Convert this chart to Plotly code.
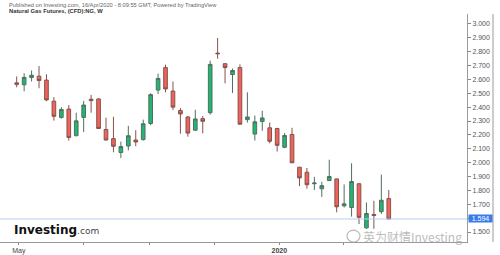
import plotly.graph_objects as go
import pandas as pd

# Weekly candles, Natural Gas Futures (NG), weeks starting 2019-04-29 .. 2020-04-13
dates = pd.date_range("2019-04-29", periods=51, freq="7D")

opens = [2.575, 2.561, 2.614, 2.623, 2.595, 2.443, 2.326, 2.386, 2.194, 2.326,
         2.457, 2.459, 2.239, 2.173, 2.073, 2.120, 2.163, 2.166, 2.282, 2.523,
         2.685, 2.516, 2.376, 2.329, 2.234, 2.317, 2.360, 2.789, 2.713, 2.635,
         2.685, 2.310, 2.206, 2.296, 2.251, 2.246, 2.111, 2.203, 1.967, 1.931,
         1.848, 1.812, 1.871, 1.883, 1.689, 1.677, 1.848, 1.530, 1.627, 1.647,
         1.741]
highs = [2.621, 2.644, 2.664, 2.696, 2.637, 2.472, 2.400, 2.415, 2.360, 2.445,
         2.488, 2.464, 2.324, 2.331, 2.152, 2.265, 2.234, 2.310, 2.500, 2.642,
         2.706, 2.585, 2.393, 2.336, 2.381, 2.336, 2.735, 2.898, 2.715, 2.678,
         2.708, 2.507, 2.339, 2.374, 2.289, 2.251, 2.213, 2.251, 1.970, 1.962,
         1.898, 1.862, 2.021, 1.885, 1.843, 1.995, 1.850, 1.713, 1.725, 1.914,
         1.803]
lows = [2.543, 2.514, 2.585, 2.536, 2.443, 2.303, 2.317, 2.159, 2.190, 2.220,
        2.360, 2.242, 2.160, 2.075, 2.033, 2.088, 2.118, 2.159, 2.270, 2.495,
        2.507, 2.379, 2.208, 2.187, 2.230, 2.211, 2.346, 2.749, 2.571, 2.502,
        2.275, 2.289, 2.159, 2.230, 2.139, 2.080, 2.104, 1.997, 1.831, 1.812,
        1.803, 1.753, 1.867, 1.642, 1.677, 1.611, 1.558, 1.523, 1.523, 1.630,
        1.590]
closes = [2.564, 2.614, 2.630, 2.592, 2.452, 2.334, 2.383, 2.182, 2.301, 2.415,
          2.447, 2.246, 2.163, 2.118, 2.116, 2.194, 2.149, 2.280, 2.490, 2.607,
          2.531, 2.400, 2.351, 2.213, 2.315, 2.298, 2.708, 2.785, 2.685, 2.664,
          2.277, 2.329, 2.294, 2.322, 2.154, 2.125, 2.196, 1.999, 1.890, 1.841,
          1.853, 1.834, 1.900, 1.682, 1.703, 1.864, 1.606, 1.634, 1.620, 1.729,
          1.594]

last_price = 1.594
y_ticks = [1.5, 1.6, 1.7, 1.8, 1.9, 2.0, 2.1, 2.2, 2.3, 2.4, 2.5, 2.6, 2.7, 2.8, 2.9, 3.0]
x_tickvals = ["2019-05-01", "2019-07-01", "2019-09-01", "2019-11-01", "2020-01-01", "2020-03-01"]
x_ticktext = ["May", "", "", "", "<b>2020</b>", ""]

W, H = 500, 255
L, R, T, B = 0, 33, 14, 10
pw, ph = W - L - R, H - T - B


def px(x):
    return (x - L) / pw


def py(y):
    return (H - B - y) / ph


fig = go.Figure()
fig.add_trace(go.Candlestick(
    x=dates, open=opens, high=highs, low=lows, close=closes,
    increasing=dict(line=dict(color="#4f6f60", width=1), fillcolor="#22b573"),
    decreasing=dict(line=dict(color="#85524c", width=1), fillcolor="#f0625a"),
    whiskerwidth=0, showlegend=False, hoverinfo="skip",
))

fig.add_shape(type="line", xref="paper", yref="y", x0=0, x1=1, y0=last_price, y1=last_price,
              line=dict(color="#b5cdf2", width=1))
# right border line
fig.add_shape(type="line", xref="paper", yref="paper", x0=px(493), x1=px(493), y0=0, y1=1,
              line=dict(color="#9a9a9a", width=1))

wm_color = "rgba(165,165,165,0.75)"
annotations = [
    dict(x=1, y=last_price, xref="paper", yref="y", xanchor="left", yanchor="middle",
         text=f"{last_price:.3f}", showarrow=False, bgcolor="#3b7de8",
         font=dict(color="white", size=7, family="Liberation Sans"), width=23, borderpad=0,
         xshift=1),
    dict(x=px(7), y=py(5), xref="paper", yref="paper", xanchor="left", yanchor="middle",
         text="Published on Investing.com, 16/Apr/2020 - 8:09:55 GMT, Powered by TradingView",
         showarrow=False, font=dict(size=5.7, color="#666", family="Liberation Sans")),
    dict(x=px(7), y=py(10.5), xref="paper", yref="paper", xanchor="left", yanchor="middle",
         text="<b>Natural Gas Futures, (CFD):NG, W</b>",
         showarrow=False, font=dict(size=5.8, color="#333", family="Liberation Sans")),
    dict(x=px(12), y=py(233), xref="paper", yref="paper", xanchor="left", yanchor="middle",
         text="<b>Investing</b><span style='font-size:9px;color:#444;font-weight:normal'>.com</span>",
         showarrow=False, font=dict(size=12, color="#111", family="DejaVu Sans")),
    dict(x=px(361), y=py(239), xref="paper", yref="paper", xanchor="left", yanchor="middle",
         text="英为财情Investing", showarrow=False,
         font=dict(size=12, color=wm_color, family="Noto Sans CJK SC")),
]

fig.add_shape(type="circle", xref="paper", yref="paper", x0=px(347), x1=px(360),
              y0=py(245), y1=py(233), line=dict(color=wm_color, width=1.2))

fig.update_layout(
    width=W, height=H, margin=dict(l=L, r=R, t=T, b=B),
    paper_bgcolor="white", plot_bgcolor="white",
    annotations=annotations,
    xaxis=dict(
        type="date", range=["2019-04-13 07:00", "2020-06-25 14:00"],
        rangeslider=dict(visible=False), showgrid=False, zeroline=False,
        tickvals=x_tickvals, ticktext=x_ticktext, ticks="outside", ticklen=2,
        tickcolor="#888", showline=True, linecolor="#9a9a9a", linewidth=1,
        tickfont=dict(size=7, color="#444", family="Liberation Sans"),
    ),
    yaxis=dict(
        side="right", range=[1.4282, 3.0711], tickvals=y_ticks, tickformat=".3f",
        showgrid=False, zeroline=False, ticks="outside", ticklen=3, tickcolor="#888",
        showline=True, linecolor="#9a9a9a", linewidth=1,
        tickfont=dict(size=7, color="#555", family="Liberation Sans"),
    ),
)

fig.write_html("out.html")
